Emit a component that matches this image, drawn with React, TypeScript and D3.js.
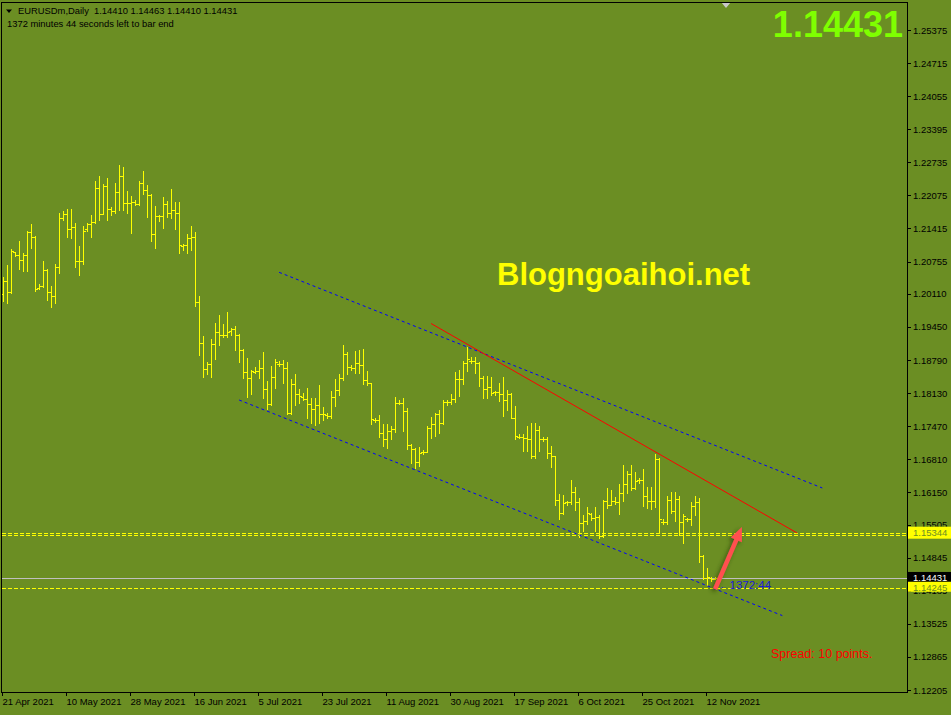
import React from 'react';
import * as d3 from 'd3';

// EURUSDm daily bars, 21 Apr 2021 .. 15 Nov 2021 (broker prints a small Sunday bar each week)
const opens = [
  1.2010, 1.2037, 1.2014, 1.2094, 1.2089, 1.2079, 1.2089, 1.2135, 1.2125, 1.2022,
  1.2027, 1.2059, 1.2015, 1.2007, 1.2065, 1.2163, 1.2171, 1.2141, 1.2144, 1.2077,
  1.2077, 1.2140, 1.2151, 1.2155, 1.2223, 1.2171, 1.2226, 1.2180, 1.2177, 1.2214,
  1.2247, 1.2193, 1.2193, 1.2195, 1.2190, 1.2233, 1.2219, 1.2209, 1.2131, 1.2167,
  1.2167, 1.2191, 1.2173, 1.2179, 1.2173, 1.2107, 1.2109, 1.2123, 1.2124, 1.1995,
  1.1913, 1.1862, 1.1871, 1.1911, 1.1935, 1.1929, 1.1929, 1.1936, 1.1940, 1.1929,
  1.1899, 1.1855, 1.1844, 1.1856, 1.1858, 1.1863, 1.1821, 1.1792, 1.1845, 1.1872,
  1.1872, 1.1863, 1.1774, 1.1832, 1.1811, 1.1805, 1.1801, 1.1791, 1.1781, 1.1790,
  1.1771, 1.1770, 1.1768, 1.1805, 1.1819, 1.1844, 1.1891, 1.1866, 1.1863, 1.1873,
  1.1869, 1.1839, 1.1833, 1.1760, 1.1760, 1.1734, 1.1721, 1.1737, 1.1742, 1.1794,
  1.1794, 1.1777, 1.1709, 1.1701, 1.1675, 1.1696, 1.1696, 1.1744, 1.1752, 1.1771,
  1.1754, 1.1796, 1.1796, 1.1801, 1.1841, 1.1841, 1.1873, 1.1878, 1.1878, 1.1873,
  1.1843, 1.1822, 1.1826, 1.1815, 1.1815, 1.1812, 1.1799, 1.1812, 1.1764, 1.1725,
  1.1725, 1.1724, 1.1721, 1.1687, 1.1739, 1.1721, 1.1721, 1.1694, 1.1687, 1.1600,
  1.1573, 1.1595, 1.1595, 1.1615, 1.1595, 1.1554, 1.1557, 1.1571, 1.1564, 1.1565,
  1.1527, 1.1597, 1.1590, 1.1597, 1.1596, 1.1614, 1.1631, 1.1651, 1.1624, 1.1639,
  1.1639, 1.1607, 1.1597, 1.1597, 1.1681, 1.1556, 1.1556, 1.1599, 1.1577, 1.1601,
  1.1555, 1.1561, 1.1561, 1.1587, 1.1595, 1.1488, 1.1444, 1.1443, 1.14410,
];
const highs = [
  1.2044, 1.2069, 1.2101, 1.2095, 1.2117, 1.2093, 1.2136, 1.2151, 1.2127, 1.2031,
  1.2077, 1.2061, 1.2027, 1.2071, 1.2172, 1.2177, 1.2180, 1.2181, 1.2153, 1.2107,
  1.2147, 1.2152, 1.2169, 1.2236, 1.2246, 1.2230, 1.2242, 1.2184, 1.2232, 1.2268,
  1.2264, 1.2216, 1.2206, 1.2198, 1.2236, 1.2256, 1.2228, 1.2211, 1.2186, 1.2169,
  1.2204, 1.2196, 1.2220, 1.2195, 1.2194, 1.2111, 1.2131, 1.2147, 1.2135, 1.2007,
  1.1926, 1.1875, 1.1921, 1.1953, 1.1969, 1.1951, 1.1975, 1.1943, 1.1947, 1.1931,
  1.1901, 1.1883, 1.1860, 1.1865, 1.1879, 1.1895, 1.1837, 1.1867, 1.1881, 1.1878,
  1.1879, 1.1875, 1.1841, 1.1851, 1.1821, 1.1813, 1.1823, 1.1804, 1.1804, 1.1829,
  1.1785, 1.1773, 1.1817, 1.1842, 1.1851, 1.1909, 1.1895, 1.1869, 1.1897, 1.1899,
  1.1901, 1.1857, 1.1834, 1.1764, 1.1769, 1.1751, 1.1752, 1.1747, 1.1805, 1.1799,
  1.1803, 1.1784, 1.1712, 1.1704, 1.1705, 1.1699, 1.1747, 1.1765, 1.1774, 1.1779,
  1.1799, 1.1799, 1.1811, 1.1856, 1.1859, 1.1877, 1.1905, 1.1884, 1.1884, 1.1876,
  1.1848, 1.1847, 1.1845, 1.1818, 1.1834, 1.1845, 1.1819, 1.1814, 1.1787, 1.1731,
  1.1731, 1.1747, 1.1754, 1.1754, 1.1747, 1.1725, 1.1725, 1.1707, 1.1688, 1.1611,
  1.1609, 1.1598, 1.1639, 1.1625, 1.1604, 1.1569, 1.1585, 1.1573, 1.1585, 1.1569,
  1.1599, 1.1623, 1.1619, 1.1606, 1.1632, 1.1669, 1.1657, 1.1669, 1.1655, 1.1644,
  1.1662, 1.1625, 1.1625, 1.1691, 1.1684, 1.1562, 1.1607, 1.1615, 1.1615, 1.1608,
  1.1571, 1.1564, 1.1595, 1.1607, 1.1603, 1.1490, 1.1464, 1.1445, 1.14463,
];
const lows = [
  1.1997, 1.1992, 1.2012, 1.2087, 1.2060, 1.2056, 1.2056, 1.2102, 1.2016, 1.2021,
  1.2024, 1.1999, 1.1984, 1.1992, 1.2052, 1.2159, 1.2124, 1.2122, 1.2064, 1.2049,
  1.2071, 1.2137, 1.2125, 1.2153, 1.2159, 1.2171, 1.2159, 1.2169, 1.2173, 1.2179,
  1.2179, 1.2173, 1.2132, 1.2189, 1.2189, 1.2211, 1.2164, 1.2117, 1.2103, 1.2156,
  1.2143, 1.2164, 1.2163, 1.2141, 1.2092, 1.2099, 1.2093, 1.2099, 1.1986, 1.1889,
  1.1846, 1.1852, 1.1846, 1.1880, 1.1909, 1.1924, 1.1925, 1.1929, 1.1899, 1.1875,
  1.1844, 1.1805, 1.1812, 1.1853, 1.1843, 1.1804, 1.1781, 1.1789, 1.1824, 1.1868,
  1.1834, 1.1771, 1.1772, 1.1790, 1.1793, 1.1799, 1.1763, 1.1754, 1.1749, 1.1754,
  1.1759, 1.1764, 1.1764, 1.1787, 1.1810, 1.1840, 1.1851, 1.1859, 1.1854, 1.1853,
  1.1832, 1.1829, 1.1752, 1.1756, 1.1725, 1.1707, 1.1704, 1.1721, 1.1736, 1.1792,
  1.1737, 1.1701, 1.1673, 1.1663, 1.1668, 1.1691, 1.1696, 1.1724, 1.1727, 1.1734,
  1.1751, 1.1790, 1.1791, 1.1795, 1.1807, 1.1831, 1.1857, 1.1874, 1.1854, 1.1827,
  1.1804, 1.1804, 1.1810, 1.1810, 1.1797, 1.1767, 1.1779, 1.1764, 1.1721, 1.1723,
  1.1697, 1.1697, 1.1683, 1.1683, 1.1697, 1.1717, 1.1683, 1.1666, 1.1589, 1.1562,
  1.1572, 1.1590, 1.1592, 1.1579, 1.1525, 1.1537, 1.1551, 1.1560, 1.1537, 1.1523,
  1.1525, 1.1583, 1.1589, 1.1592, 1.1572, 1.1597, 1.1614, 1.1619, 1.1622, 1.1633,
  1.1587, 1.1583, 1.1581, 1.1585, 1.1533, 1.1552, 1.1552, 1.1574, 1.1557, 1.1530,
  1.1513, 1.1557, 1.1549, 1.1569, 1.1475, 1.1441, 1.1431, 1.1439, 1.14410,
];
const closes = [
  1.2037, 1.2014, 1.2097, 1.2089, 1.2079, 1.2089, 1.2135, 1.2125, 1.2021, 1.2027,
  1.2059, 1.2015, 1.2007, 1.2065, 1.2162, 1.2171, 1.2141, 1.2144, 1.2077, 1.2077,
  1.2137, 1.2151, 1.2155, 1.2223, 1.2171, 1.2226, 1.2181, 1.2177, 1.2214, 1.2247,
  1.2193, 1.2193, 1.2194, 1.2190, 1.2233, 1.2219, 1.2209, 1.2131, 1.2167, 1.2167,
  1.2191, 1.2173, 1.2179, 1.2173, 1.2109, 1.2109, 1.2123, 1.2124, 1.1995, 1.1913,
  1.1861, 1.1871, 1.1911, 1.1935, 1.1929, 1.1929, 1.1934, 1.1940, 1.1929, 1.1899,
  1.1855, 1.1844, 1.1857, 1.1858, 1.1863, 1.1821, 1.1792, 1.1845, 1.1875, 1.1872,
  1.1863, 1.1774, 1.1832, 1.1811, 1.1807, 1.1801, 1.1791, 1.1781, 1.1790, 1.1771,
  1.1771, 1.1767, 1.1805, 1.1819, 1.1844, 1.1891, 1.1865, 1.1863, 1.1873, 1.1869,
  1.1839, 1.1833, 1.1761, 1.1760, 1.1734, 1.1721, 1.1737, 1.1742, 1.1794, 1.1794,
  1.1777, 1.1709, 1.1701, 1.1675, 1.1694, 1.1696, 1.1744, 1.1752, 1.1771, 1.1754,
  1.1795, 1.1796, 1.1801, 1.1841, 1.1841, 1.1873, 1.1880, 1.1878, 1.1873, 1.1843,
  1.1822, 1.1826, 1.1813, 1.1815, 1.1812, 1.1799, 1.1812, 1.1764, 1.1727, 1.1725,
  1.1724, 1.1721, 1.1687, 1.1739, 1.1721, 1.1721, 1.1694, 1.1687, 1.1600, 1.1573,
  1.1594, 1.1595, 1.1615, 1.1595, 1.1554, 1.1557, 1.1574, 1.1564, 1.1565, 1.1527,
  1.1597, 1.1590, 1.1597, 1.1596, 1.1614, 1.1631, 1.1651, 1.1624, 1.1637, 1.1639,
  1.1607, 1.1597, 1.1597, 1.1681, 1.1562, 1.1556, 1.1599, 1.1577, 1.1601, 1.1555,
  1.1567, 1.1561, 1.1587, 1.1595, 1.1488, 1.1444, 1.1445, 1.1441, 1.14431,
];

const priceTicks = [
  1.25375, 1.24715, 1.24055, 1.23395, 1.22735, 1.22075, 1.21415, 1.20755, 1.2011, 1.1945,
  1.1879, 1.1813, 1.1747, 1.1681, 1.1615, 1.15505, 1.14845, 1.14185, 1.13525, 1.12865, 1.12205,
];
const dateLabels = [
  '21 Apr 2021', '10 May 2021', '28 May 2021', '16 Jun 2021', '5 Jul 2021', '23 Jul 2021',
  '11 Aug 2021', '30 Aug 2021', '17 Sep 2021', '6 Oct 2021', '25 Oct 2021', '12 Nov 2021',
];
const barsPerLabel = 16;

// drawn objects: [bar index, price]
const channelUpper = [[68.9, 1.2054], [204.7, 1.16236]];
const channelLower = [[58.9, 1.17992], [194.7, 1.1369]];
const redTrend = [[106.9, 1.19518], [198.4, 1.15338]];
const arrowPts = [[177.9, 1.1422], [184.6, 1.15458]];
const yellowLevels = [1.15344, 1.1529, 1.14245];
const bid = 1.14431;

const BG = '#6B8E23';
const FONT = '"Liberation Sans", Arial, sans-serif';

export default function App() {
  const x = d3.scaleLinear().domain([0, 178]).range([3.5, 715.5]);
  const y = d3.scaleLinear().domain([1.12205, 1.25375]).range([690, 30]);
  const fmt = d3.format('.5f');
  const line = d3.line<number[]>().x(d => x(d[0])).y(d => y(d[1]));

  const left = 1.5, right = 907.5, top = 2.5, bottom = 692.5;

  // arrow polygon from its two anchors
  const ax = x(arrowPts[0][0]), ay = y(arrowPts[0][1]);
  const bx = x(arrowPts[1][0]), by = y(arrowPts[1][1]);
  const len = Math.hypot(bx - ax, by - ay);
  const ux = (bx - ax) / len, uy = (by - ay) / len;
  const nx = -uy, ny = ux;
  const hx = bx - ux * 14, hy = by - uy * 14;
  const sw = 2.2, hw = 6;
  const arrowPoly = [
    [ax + nx * sw, ay + ny * sw], [hx + nx * sw, hy + ny * sw], [hx + nx * hw, hy + ny * hw],
    [bx, by], [hx - nx * hw, hy - ny * hw], [hx - nx * sw, hy - ny * sw], [ax - nx * sw, ay - ny * sw],
  ].map(p => p.join(',')).join(' ');

  return (
    <svg width={951} height={715} style={{ position: 'absolute', left: 0, top: 0, display: 'block' }}
      fontFamily={FONT}>
      <defs>
        <clipPath id="plot">
          <rect x={2} y={3} width={905} height={689} />
        </clipPath>
        <filter id="shadow" x="-50%" y="-50%" width="200%" height="200%">
          <feDropShadow dx={-2} dy={2} stdDeviation={2} floodColor="#2a3a10" floodOpacity={0.7} />
        </filter>
      </defs>
      <rect width={951} height={715} fill={BG} />

      <g clipPath="url(#plot)">
        {/* horizontal levels */}
        {yellowLevels.map((v, i) => (
          <line key={'lv' + i} x1={2} x2={907} y1={Math.round(y(v)) + 0.5} y2={Math.round(y(v)) + 0.5}
            stroke="#FFFF00" strokeDasharray="4,2" shapeRendering="crispEdges" />
        ))}
        <line x1={2} x2={907} y1={Math.round(y(bid)) + 0.5} y2={Math.round(y(bid)) + 0.5}
          stroke="#C0C0C0" shapeRendering="crispEdges" />

        {/* OHLC bars */}
        <g stroke="#FFFF00" shapeRendering="crispEdges">
          {closes.map((c, i) => {
            const cx = x(i);
            const yo = Math.round(y(opens[i])) + 0.5;
            const yc = Math.round(y(c)) + 0.5;
            return (
              <g key={i}>
                <line x1={cx} x2={cx} y1={Math.round(y(highs[i]))} y2={Math.round(y(lows[i])) + 1} />
                <line x1={cx - 2.5} x2={cx} y1={yo} y2={yo} />
                <line x1={cx} x2={cx + 2.5} y1={yc} y2={yc} />
              </g>
            );
          })}
        </g>

        {/* channel + trend line */}
        <path d={line(channelUpper) || ''} stroke="#0000FF" fill="none" strokeDasharray="3,3" />
        <path d={line(channelLower) || ''} stroke="#0000FF" fill="none" strokeDasharray="3,3" />
        <path d={line(redTrend) || ''} stroke="#FF0000" fill="none" />

        <polygon points={arrowPoly} fill="#FF5050" filter="url(#shadow)" />

        <text x={x(178) + 4} y={y(1.14245) + 1} fontSize={8} fill="#1a1ad8">←</text>
        <text x={x(178) + 14} y={y(1.14245) + 1} fontSize={11.5} fill="#1a1ad8">1372:44</text>

        <text x={497} y={285} fontSize={31} fontWeight="bold" fill="#FFFF00">Blogngoaihoi.net</text>
        <text x={771} y={657.5} fontSize={12.5} fill="#FF0000">Spread: 10 points.</text>
      </g>

      {/* big price */}
      <text x={903} y={37} fontSize={36} fontWeight="bold" fill="#7FFF00" textAnchor="end">{fmt(bid)}</text>

      {/* header */}
      <polygon points="6,9.5 12,9.5 9,13" fill="#000" />
      <text x={18} y={14} fontSize={9.4} fill="#000" xmlSpace="preserve">
        {'EURUSDm,Daily  ' + [opens[178], highs[178], lows[178], closes[178]].map(fmt).join(' ')}
      </text>
      <text x={7} y={26.5} fontSize={9.4} fill="#000">1372 minutes 44 seconds left to bar end</text>

      {/* chart shift marker */}
      <polygon points="721,2 731,2 726,8" fill="#C8C8C8" />

      {/* frame */}
      <rect x={left} y={top} width={right - left} height={bottom - top} fill="none" stroke="#000"
        shapeRendering="crispEdges" />

      {/* price axis */}
      {priceTicks.map(p => (
        <g key={p}>
          <line x1={907} x2={911} y1={Math.round(y(p)) + 0.5} y2={Math.round(y(p)) + 0.5} stroke="#000"
            shapeRendering="crispEdges" />
          <text x={913} y={y(p) + 3.5} fontSize={9.5} fill="#000">{fmt(p)}</text>
        </g>
      ))}
      <rect x={908} y={y(1.15344) - 6} width={43} height={12} fill="#FFFF00" />
      <text x={913} y={y(1.15344) + 3.5} fontSize={9.5} fill={BG}>{fmt(1.15344)}</text>
      <rect x={908} y={y(bid) - 6.5} width={43} height={10} fill="#000" />
      <text x={913} y={y(bid) + 3} fontSize={9.5} fill="#FFF">{fmt(bid)}</text>
      <rect x={908} y={y(1.14245) - 6} width={43} height={10} fill="#FFFF00" />
      <text x={913} y={y(1.14245) + 3} fontSize={9.5} fill={BG}>{fmt(1.14245)}</text>

      {/* time axis */}
      {dateLabels.map((d, k) => {
        const tx = x(k * barsPerLabel) - 1;
        return (
          <g key={d}>
            <line x1={tx} x2={tx} y1={692} y2={696} stroke="#000" shapeRendering="crispEdges" />
            <text x={tx} y={705} fontSize={9.5} fill="#000">{d}</text>
          </g>
        );
      })}
    </svg>
  );
}
